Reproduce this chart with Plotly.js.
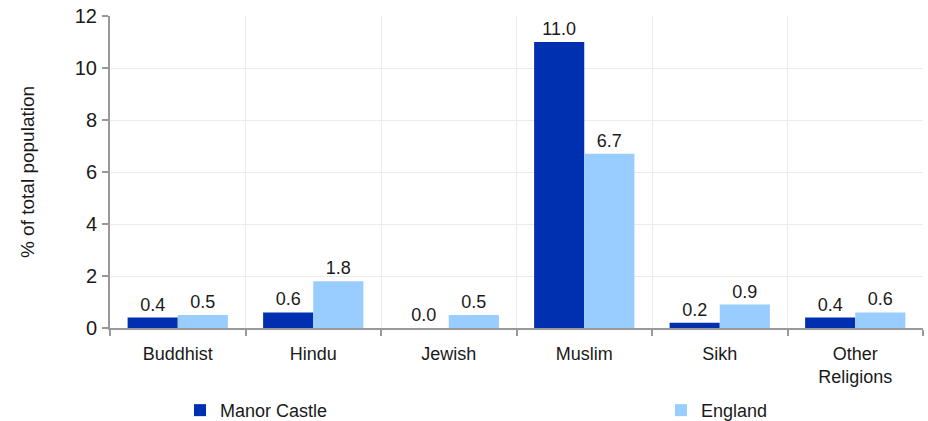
<!DOCTYPE html>
<html><head><meta charset="utf-8">
<script src="https://cdn.plot.ly/plotly-3.0.1.min.js"></script>
<style>html,body{margin:0;padding:0;background:#fff}#chart{width:928px;height:421px}</style>
</head><body><div id="chart"></div>
<script>
const categories = ["Buddhist", "Hindu", "Jewish", "Muslim", "Sikh", "Other<br>Religions"];
const manorCastle = [0.4, 0.6, 0.0, 11.0, 0.2, 0.4];
const england = [0.5, 1.8, 0.5, 6.7, 0.9, 0.6];
const yTicks = [0, 2, 4, 6, 8, 10, 12];

const font = {family: "Liberation Sans, Arial, sans-serif", size: 17, color: "#1a1a1a"};

const traces = [
  {type: "bar", name: "Manor Castle", x: categories, y: manorCastle,
   marker: {color: "#0030B0"}, text: manorCastle.map(v => v.toFixed(1)),
   textposition: "outside", cliponaxis: false, textfont: {size: 18, color: "#1a1a1a"},
   legend: "legend"},
  {type: "bar", name: "England", x: categories, y: england,
   marker: {color: "#99CCFF"}, text: england.map(v => v.toFixed(1)),
   textposition: "outside", cliponaxis: false, textfont: {size: 18, color: "#1a1a1a"},
   legend: "legend2"}
];

const layout = {
  width: 928, height: 421,
  margin: {l: 110, r: 5, t: 16, b: 93, autoexpand: false},
  paper_bgcolor: "#fff", plot_bgcolor: "#fff",
  font: font,
  barmode: "group", bargap: 0.26, bargroupgap: 0,
  showlegend: true,
  xaxis: {
    type: "category", tickson: "boundaries", showgrid: true, gridcolor: "#ebebeb",
    showline: true, linecolor: "#999", linewidth: 2,
    ticks: "outside", ticklen: 6, tickcolor: "#999", tickwidth: 2,
    ticklabelstandoff: 8, tickfont: {size: 18}, automargin: false
  },
  yaxis: {
    range: [0, 12], tickvals: yTicks, showgrid: true, gridcolor: "#ebebeb",
    showline: true, linecolor: "#999", linewidth: 2, zeroline: false,
    ticks: "outside", ticklen: 6, tickcolor: "#999", tickwidth: 2,
    ticklabelstandoff: 1, tickfont: {size: 20}, automargin: false,
    title: {text: "% of total population", font: {size: 19}, standoff: 35}
  },
  legend: {x: 180 / 928, y: 0.069, xref: "container", yref: "container",
           xanchor: "left", yanchor: "top", orientation: "h",
           font: {size: 18}, itemwidth: 30, bgcolor: "rgba(0,0,0,0)"},
  legend2: {x: 661 / 928, y: 0.069, xref: "container", yref: "container",
           xanchor: "left", yanchor: "top", orientation: "h",
           font: {size: 18}, itemwidth: 30, bgcolor: "rgba(0,0,0,0)"}
};

Plotly.newPlot("chart", traces, layout, {displayModeBar: false, staticPlot: true});
</script></body></html>
